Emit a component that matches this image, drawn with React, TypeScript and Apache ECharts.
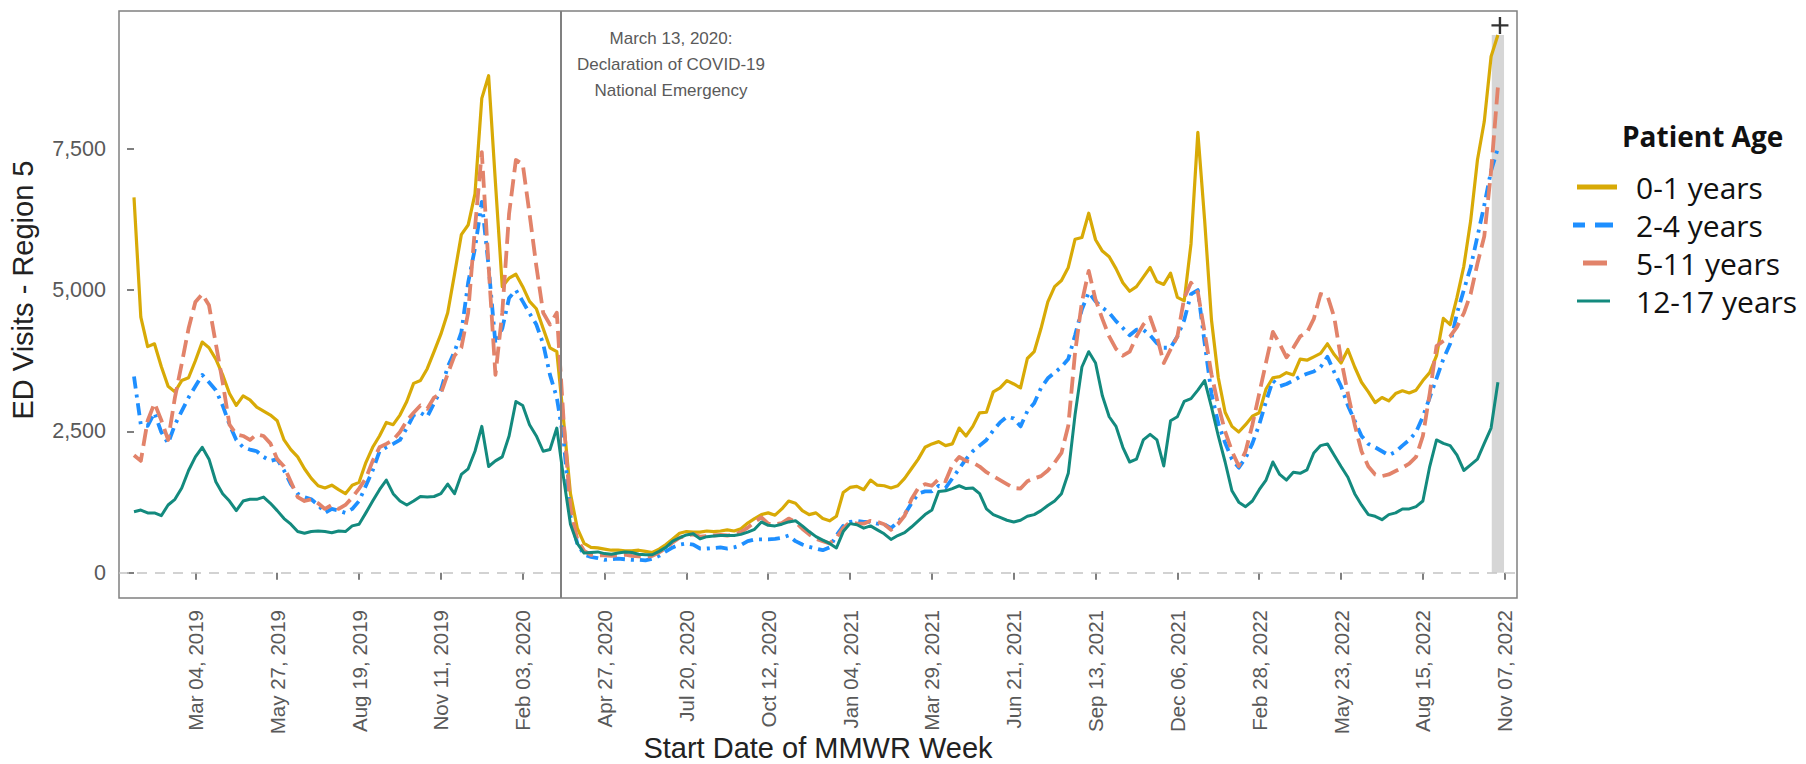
import React, { useEffect, useRef } from "react";
import * as echarts from "echarts";

// Week index 0 = week starting Dec 31, 2018 (MMWR weeks, one value per week)
const TICK_WEEKS = [9, 21, 33, 45, 57, 69, 81, 93, 105, 117, 129, 141, 153, 165, 177, 189, 201];
const TICK_LABELS = [
  "Mar 04, 2019", "May 27, 2019", "Aug 19, 2019", "Nov 11, 2019", "Feb 03, 2020",
  "Apr 27, 2020", "Jul 20, 2020", "Oct 12, 2020", "Jan 04, 2021", "Mar 29, 2021",
  "Jun 21, 2021", "Sep 13, 2021", "Dec 06, 2021", "Feb 28, 2022", "May 23, 2022",
  "Aug 15, 2022", "Nov 07, 2022",
];
const Y_TICKS = [0, 2500, 5000, 7500];

const AGE_0_1 = [
  6640, 4520, 4000, 4050, 3650, 3300, 3200, 3400, 3450, 3750,
  4080, 3980, 3780, 3500, 3170, 2960, 3130, 3060, 2930, 2860,
  2790, 2690, 2350, 2180, 2050, 1840, 1670, 1540, 1500, 1550,
  1470, 1400, 1550, 1600, 1950, 2220, 2420, 2660, 2620, 2790,
  3030, 3350, 3400, 3610, 3910, 4220, 4600, 5280, 5980, 6150,
  6700, 8390, 8790, 6900, 5060, 5210, 5280, 5060, 4800, 4670,
  4320, 3980, 3910, 2690, 1400, 790, 520, 450, 440, 420,
  400, 400, 390, 390, 400, 380, 360, 420, 500, 600,
  700, 730, 720, 720, 740, 730, 740, 760, 740, 780,
  880, 960, 1030, 1060, 1020, 1130, 1270, 1230, 1100, 1030,
  1060, 960, 920, 1000, 1420, 1510, 1530, 1470, 1640, 1550,
  1540, 1500, 1540, 1670, 1840, 2010, 2220, 2280, 2320, 2250,
  2280, 2560, 2420, 2590, 2830, 2840, 3200, 3270, 3400, 3340,
  3270, 3790, 3910, 4320, 4790, 5060, 5170, 5400, 5900, 5930,
  6360, 5890, 5690, 5590, 5380, 5130, 4980, 5060, 5230, 5400,
  5150, 5100, 5300, 4870, 4810, 5820, 7790, 6230, 4470, 3450,
  2840, 2590, 2490, 2620, 2770, 2830, 3250, 3450, 3470, 3540,
  3500, 3780, 3760, 3820, 3880, 4050, 3860, 3710, 3950, 3640,
  3370, 3200, 3010, 3100, 3040, 3170, 3220, 3180, 3230, 3400,
  3540, 3840, 4500, 4390, 4870, 5420, 6220, 7300, 7980, 9130,
  9510,
];

const AGE_2_4 = [
  3470, 2620, 2600, 2830, 2490, 2290, 2620, 2860, 3100, 3300,
  3500, 3370, 3230, 2960, 2620, 2350, 2220, 2180, 2150, 2050,
  1980, 2010, 1810, 1570, 1400, 1340, 1300, 1200, 1060, 1130,
  1100, 1060, 1130, 1270, 1540, 1810, 2150, 2220, 2280, 2350,
  2560, 2790, 2830, 2760, 3000, 3230, 3640, 3910, 4250, 5130,
  5740, 6560, 5420, 4050, 4320, 4860, 5000, 4800, 4590, 4390,
  4050, 3500, 3100, 2350, 1000, 520, 320, 280, 260, 230,
  240, 250, 240, 230, 230, 220, 250, 300, 380, 450,
  500, 520, 500, 430, 430, 440, 450, 430, 450, 490,
  560, 590, 590, 590, 600, 620, 660, 560, 500, 460,
  430, 400, 450, 660, 830, 900, 920, 900, 900, 870,
  860, 790, 900, 1030, 1230, 1400, 1440, 1440, 1540, 1500,
  1670, 1840, 2010, 2150, 2250, 2350, 2520, 2660, 2760, 2730,
  2590, 2860, 3000, 3270, 3440, 3540, 3640, 3780, 4200, 4660,
  4960, 4800, 4690, 4600, 4450, 4330, 4200, 4300, 4300, 4200,
  4060, 3980, 3980, 4180, 4470, 4930, 5000, 4060, 3170, 2640,
  2300, 2010, 1860, 2030, 2290, 2620, 3030, 3400, 3300, 3340,
  3400, 3470, 3520, 3560, 3640, 3820, 3550, 3300, 2960, 2690,
  2420, 2280, 2220, 2150, 2080, 2140, 2250, 2350, 2490, 2760,
  3100, 3440, 3780, 4050, 4590, 5000, 5400, 5950, 6500, 7110,
  7510,
];

const AGE_5_11 = [
  2080, 1980, 2690, 3000, 2700, 2350, 3100, 3700, 4320, 4790,
  4930, 4730, 4050, 3370, 2620, 2450, 2420, 2350, 2450, 2420,
  2290, 2010, 1880, 1610, 1340, 1270, 1300, 1230, 1130, 1200,
  1130, 1200, 1330, 1490, 1670, 1980, 2220, 2280, 2350, 2490,
  2690, 2830, 2960, 2900, 3100, 3170, 3520, 3840, 3980, 4600,
  6100, 7440, 5420, 3500, 4600, 6350, 7300, 7230, 6350, 5420,
  4600, 4390, 4600, 2690, 1130, 590, 390, 320, 310, 310,
  300, 310, 320, 300, 290, 280, 300, 360, 440, 540,
  620, 660, 680, 640, 650, 660, 670, 660, 680, 720,
  800, 900, 980, 870, 860, 880, 960, 900, 780, 680,
  600, 560, 520, 620, 790, 900, 870, 870, 920, 900,
  860, 760, 860, 1010, 1300, 1500, 1570, 1540, 1660, 1620,
  1910, 2050, 1980, 1950, 1880, 1780, 1710, 1640, 1570, 1500,
  1490, 1620, 1670, 1710, 1810, 1950, 2120, 2600, 3900, 4790,
  5340, 4830, 4490, 4180, 3960, 3840, 3910, 4180, 4390, 4520,
  4180, 3710, 3950, 4180, 4860, 5130, 4960, 4250, 3510, 2960,
  2500, 2150, 1890, 2150, 2620, 3170, 3720, 4260, 4050, 3810,
  3980, 4180, 4250, 4490, 4930, 4900, 4520, 3780, 3170, 2620,
  2150, 1880, 1740, 1710, 1740, 1800, 1860, 1930, 2050, 2420,
  3170, 4010, 4100, 4180, 4350, 4590, 4930, 5470, 5950, 7100,
  8590,
];

const AGE_12_17 = [
  1080, 1110, 1060, 1060, 1010, 1200, 1300, 1500, 1810, 2050,
  2220, 2010, 1610, 1400, 1270, 1100, 1270, 1300, 1300, 1340,
  1230, 1100, 960, 860, 730, 700, 730, 740, 730, 710,
  740, 730, 830, 860, 1060, 1270, 1470, 1640, 1400, 1270,
  1200, 1270, 1350, 1340, 1350, 1400, 1570, 1400, 1740, 1840,
  2150, 2590, 1880, 1980, 2050, 2420, 3030, 2960, 2620, 2420,
  2150, 2180, 2560, 1670, 860, 520, 350, 360, 370, 340,
  330, 350, 370, 360, 330, 320, 320, 380, 450, 560,
  620, 670, 690, 600, 640, 650, 660, 660, 660, 680,
  720, 770, 900, 840, 830, 860, 900, 920, 830, 730,
  640, 580, 520, 440, 730, 870, 850, 790, 830, 760,
  690, 590, 660, 710, 810, 920, 1030, 1110, 1440, 1450,
  1490, 1540, 1490, 1500, 1400, 1130, 1030, 980, 930, 900,
  930, 1000, 1030, 1100, 1190, 1270, 1400, 1760, 2800, 3640,
  3910, 3710, 3130, 2760, 2590, 2220, 1960, 2010, 2350, 2450,
  2350, 1890, 2690, 2760, 3030, 3080, 3230, 3400, 2930, 2420,
  1960, 1450, 1250, 1170, 1270, 1470, 1640, 1960, 1740, 1640,
  1780, 1760, 1820, 2120, 2250, 2280, 2080, 1880, 1690, 1400,
  1200, 1030, 1000, 940, 1030, 1060, 1130, 1130, 1170, 1270,
  1880, 2350, 2290, 2250, 2080, 1810, 1910, 2010, 2290, 2560,
  3370,
];

const SERIES_NAMES = ["0-1 years", "2-4 years", "5-11 years", "12-17 years"];
const EMERGENCY_WEEK = 62.57; // March 13, 2020
const EMERGENCY_TEXT = "March 13, 2020:\nDeclaration of COVID-19\nNational Emergency";
const PLUS_MARK: [number, number] = [200.3, 9680];

const COLORS = ["#D8AA06", "#1E8FFF", "#E2836A", "#138A7E"];

// legend key shapes (48 x 14 box; tiny corner slivers fix the bounding box)
const BOX = "M0,0L0.01,0L0,0.01Z M48,14L47.99,14L48,13.99Z ";
const LEGEND_ICONS = [
  "path://" + BOX + "M6,4.5H46V9.5H6Z",
  "path://" + BOX + "M2,4.5H14V9.5H2Z M24,4.5H42V9.5H24Z",
  "path://" + BOX + "M12,4.5H36V9.5H12Z",
  "path://" + BOX + "M6,5.5H39V8.5H6Z",
];

export default function App() {
  const ref = useRef<HTMLDivElement>(null);

  useEffect(() => {
    document.body.style.margin = "0";
    if (!ref.current) return;
    const chart = echarts.init(ref.current, null, { renderer: "svg" });

    const toPts = (arr: number[]) => arr.map((v, i) => [i, v]);
    const last = AGE_0_1.length - 1;
    const barTop = Math.max(AGE_0_1[last], AGE_2_4[last], AGE_5_11[last], AGE_12_17[last]);

    const mkLine = (name: string, data: number[], color: string, width: number, type: any, z: number) => ({
      name,
      type: "line",
      data: toPts(data),
      symbol: "none",
      showSymbol: false,
      z,
      itemStyle: { color },
      lineStyle: { color, width, type, cap: "butt", join: "round" },
    });

    const option: any = {
      animation: false,
      backgroundColor: "#ffffff",
      grid: {
        left: 119,
        right: 289,
        top: 11,
        bottom: 166,
        containLabel: false,
        outerBoundsMode: "none",
        show: true,
        borderColor: "#808080",
        borderWidth: 1.5,
        backgroundColor: "transparent",
      },
      xAxis: {
        type: "value",
        min: -2.2,
        max: 202.8,
        axisLine: { show: false },
        splitLine: { show: false },
        axisTick: {
          show: true,
          customValues: TICK_WEEKS,
          length: 7,
          lineStyle: { color: "#555", width: 1.5 },
        },
        axisLabel: {
          customValues: TICK_WEEKS,
          rotate: 90,
          margin: 12,
          fontSize: 20.5,
          color: "#595959",
          fontFamily: "Liberation Sans",
          formatter: (v: number) => {
            const k = TICK_WEEKS.indexOf(Math.round(v));
            return k >= 0 ? TICK_LABELS[k] : "";
          },
        },
      },
      yAxis: {
        type: "value",
        min: -445,
        max: 9935,
        axisLine: { show: false },
        splitLine: { show: false },
        axisTick: {
          show: true,
          customValues: Y_TICKS,
          length: 7,
          lineStyle: { color: "#555", width: 1.5 },
        },
        axisLabel: {
          customValues: Y_TICKS,
          margin: 13,
          fontSize: 21.5,
          color: "#595959",
          fontFamily: "Liberation Sans",
          formatter: (v: number) => Math.round(v).toLocaleString("en-US"),
        },
      },
      legend: {
        orient: "vertical",
        left: 1566,
        top: 167,
        itemWidth: 48,
        itemHeight: 14,
        itemGap: 8,
        data: SERIES_NAMES.map((n, k) => ({ name: n, icon: LEGEND_ICONS[k], itemStyle: { color: COLORS[k] } })),
        textStyle: {
          fontSize: 30,
          fontFamily: "Open Sans",
          color: "#111",
          padding: [0, 0, 0, 12],
        },
      },
      graphic: [
        {
          type: "text",
          x: 23,
          y: 290,
          rotation: Math.PI / 2,
          style: {
            text: "ED Visits - Region 5",
            align: "center",
            verticalAlign: "middle",
            font: '29px "Liberation Sans"',
            fill: "#222",
          },
        },
        {
          type: "text",
          x: 818,
          y: 748,
          style: {
            text: "Start Date of MMWR Week",
            align: "center",
            verticalAlign: "middle",
            font: '29px "Liberation Sans"',
            fill: "#222",
          },
        },
        {
          type: "text",
          left: 1622,
          top: 122,
          style: { text: "Patient Age", font: 'bold 28px "Open Sans"', fill: "#111" },
        },
        {
          type: "text",
          x: 671,
          y: 25,
          style: {
            text: EMERGENCY_TEXT,
            align: "center",
            verticalAlign: "top",
            lineHeight: 26,
            font: '17px "Liberation Sans"',
            fill: "#5a5a5a",
          },
        },
      ],
      series: [
        {
          name: "lastWeekBar",
          type: "line",
          data: [[last, 0]],
          symbol: "none",
          lineStyle: { opacity: 0 },
          z: 1,
          silent: true,
          markArea: {
            silent: true,
            itemStyle: { color: "#d6d6d6", opacity: 1 },
            data: [[{ coord: [last - 0.9, 0] }, { coord: [last + 0.9, barTop] }]],
          },
          markLine: {
            silent: true,
            symbol: "none",
            label: { show: false },
            data: [
              { yAxis: 0, lineStyle: { color: "#c4c4c4", type: [10, 8], width: 1.5 } },
              { xAxis: EMERGENCY_WEEK, lineStyle: { color: "#808080", type: "solid", width: 2 } },
            ],
          },
        },
        mkLine(SERIES_NAMES[0], AGE_0_1, COLORS[0], 3.2, "solid", 2),
        mkLine(SERIES_NAMES[1], AGE_2_4, COLORS[1], 3.8, [12, 6, 3, 6], 3),
        mkLine(SERIES_NAMES[2], AGE_5_11, COLORS[2], 3.8, [17, 7], 4),
        mkLine(SERIES_NAMES[3], AGE_12_17, COLORS[3], 3, "solid", 5),
        {
          name: "plus",
          type: "scatter",
          data: [PLUS_MARK],
          symbol: "path://M4.3,0H5.7V4.3H10V5.7H5.7V10H4.3V5.7H0V4.3H4.3Z",
          symbolSize: 17,
          itemStyle: { color: "#000" },
          z: 6,
          silent: true,
        },
      ],
    };

    chart.setOption(option);
    return () => chart.dispose();
  }, []);

  return <div ref={ref} style={{ width: 1806, height: 764 }} />;
}
